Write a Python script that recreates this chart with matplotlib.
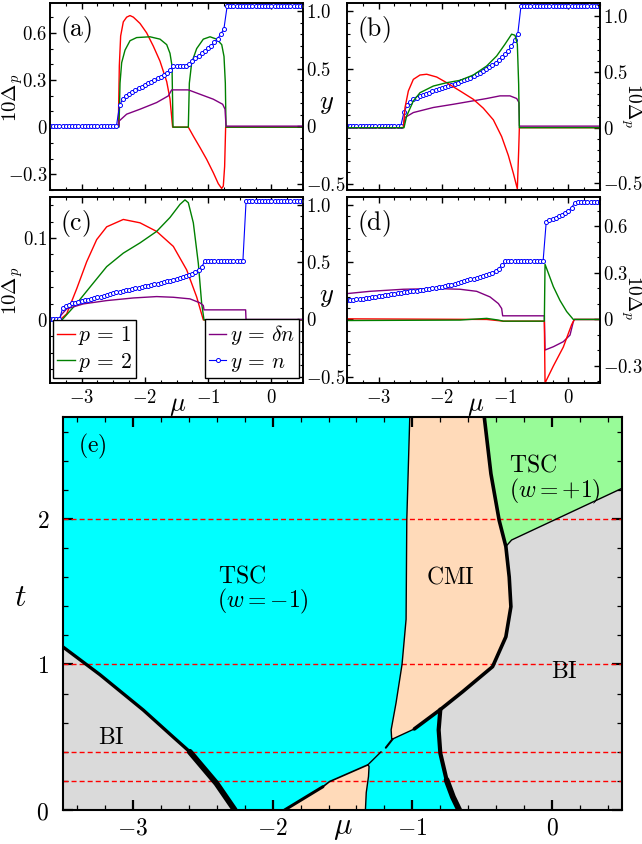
import numpy as np
import matplotlib
matplotlib.use('Agg')
import matplotlib.pyplot as plt
from matplotlib.ticker import MultipleLocator, FuncFormatter

plt.rcParams['mathtext.fontset'] = 'cm'
plt.rcParams['font.family'] = ['DejaVu Serif']

# ---------------- data ----------------
# common mu sampling of the n(mu) curves (blue circles)
mu_grid = np.round(np.arange(-3.5, 0.501, 0.05), 2)

# panel (a)
red_a_mu = [-3.5, -2.42, -2.404, -2.383, -2.341, -2.288, -2.235, -2.182, -2.077, -1.972, -1.866, -1.761,
            -1.655, -1.603, -1.561, -1.313, -1.234, -1.128, -1.023, -0.918, -0.839, -0.786, -0.760, -0.739,
            -0.723, 0.5]
red_a = [0, 0, 0.39, 0.58, 0.67, 0.70, 0.71, 0.70, 0.66, 0.60, 0.515, 0.42, 0.29, 0.18, 0, 0, -0.057, -0.13,
         -0.205, -0.29, -0.36, -0.39, -0.375, -0.25, 0, 0]
green_a_mu = [-3.5, -2.409, -2.393, -2.367, -2.314, -2.235, -2.130, -1.919, -1.761, -1.655, -1.603, -1.571,
              -1.555, -1.313, -1.297, -1.260, -1.181, -1.076, -0.970, -0.865, -0.785, -0.749, -0.728, -0.717, 0.5]
green_a = [0, 0, 0.28, 0.41, 0.49, 0.55, 0.57, 0.575, 0.56, 0.525, 0.47, 0.39, 0, 0, 0.28, 0.41, 0.50, 0.56,
           0.575, 0.56, 0.525, 0.45, 0.28, 0, 0]
purple_a_mu = [-3.5, -2.409, -2.404, -2.288, -2.077, -1.814, -1.629, -1.576, -1.561, -1.313, -1.128, -0.918,
               -0.770, -0.733, -0.717, 0.5]
purple_a = [0, 0, 0.046, 0.104, 0.147, 0.205, 0.263, 0.315, 0.315, 0.315, 0.277, 0.234, 0.19, 0.147, 0, 0]
n_a = [0, 0, 0, 0, 0, 0, 0, 0, 0, 0,
       0, 0, 0, 0, 0, 0, 0, 0, 0, 0,
       0, 0, 0.18, 0.234, 0.263, 0.283, 0.298, 0.315, 0.33, 0.344,
       0.358, 0.373, 0.387, 0.40, 0.416, 0.43, 0.445, 0.465, 0.488, 0.523,
       0.523, 0.523, 0.523, 0.523, 0.538, 0.566, 0.59, 0.61, 0.633, 0.653,
       0.676, 0.70, 0.731, 0.76, 0.80, 0.847, 1.04, 1.04, 1.04, 1.04,
       1.04, 1.04, 1.04, 1.04, 1.04, 1.04, 1.04, 1.04, 1.04, 1.04,
       1.04, 1.04, 1.04, 1.04, 1.04, 1.04, 1.04, 1.04, 1.04, 1.04,
       1.04]

# panel (b)
red_b_mu = [-3.5, -2.609, -2.583, -2.530, -2.451, -2.346, -2.240, -2.082, -1.924, -1.713, -1.503, -1.345,
            -1.186, -1.055, -0.949, -0.870, -0.807, -0.786, -0.775, 0.5]
red_b = [0, 0, 0.18, 0.33, 0.434, 0.473, 0.48, 0.455, 0.404, 0.33, 0.255, 0.175, 0.07, -0.08, -0.25, -0.41,
         -0.55, -0.21, 0, 0]
green_b_mu = [-3.5, -2.599, -2.557, -2.451, -2.346, -2.135, -1.924, -1.713, -1.503, -1.292, -1.134, -1.002,
              -0.897, -0.844, -0.807, -0.786, -0.775, 0.5]
green_b = [0, 0, 0.105, 0.24, 0.314, 0.374, 0.404, 0.425, 0.473, 0.554, 0.644, 0.75, 0.84, 0.83, 0.75, 0.39,
           0, 0]
purple_b_mu = [-3.5, -2.609, -2.583, -2.451, -2.135, -1.819, -1.503, -1.292, -1.081, -0.923, -0.817, -0.781,
               -0.775, 0.5]
purple_b = [0, 0, 0.075, 0.118, 0.162, 0.19, 0.22, 0.24, 0.263, 0.263, 0.24, 0.205, 0, 0]
n_b = [0, 0, 0, 0, 0, 0, 0, 0, 0, 0,
       0, 0, 0, 0, 0, 0, 0, 0, 0.12, 0.18,
       0.21, 0.234, 0.247, 0.258, 0.27, 0.281, 0.292, 0.302, 0.312, 0.322,
       0.332, 0.341, 0.35, 0.358, 0.367, 0.378, 0.389, 0.40, 0.41, 0.422,
       0.435, 0.45, 0.465, 0.48, 0.497, 0.515, 0.533, 0.552, 0.573, 0.598,
       0.625, 0.655, 0.695, 0.745, 0.80, 1.04, 1.04, 1.04, 1.04, 1.04,
       1.04, 1.04, 1.04, 1.04, 1.04, 1.04, 1.04, 1.04, 1.04, 1.04,
       1.04, 1.04, 1.04, 1.04, 1.04, 1.04, 1.04, 1.04, 1.04, 1.04,
       1.04]

# panel (c)
red_c_mu = [-3.5, -3.342, -3.236, -3.078, -2.920, -2.762, -2.604, -2.341, -2.077, -1.814, -1.550, -1.339,
            -1.181, -1.076, 0.5]
red_c = [0, 0, 0.0074, 0.038, 0.071, 0.098, 0.1136, 0.1226, 0.1185, 0.108, 0.0897, 0.061, 0.028, 0, 0]
green_c_mu = [-3.5, -3.31, -3.078, -2.868, -2.604, -2.341, -2.077, -1.814, -1.603, -1.445, -1.366, -1.313,
              -1.234, -1.155, -1.102, -1.065, 0.5]
green_c = [0, 0, 0.02, 0.04, 0.065, 0.0815, 0.094, 0.108, 0.125, 0.141, 0.1465, 0.143, 0.1185, 0.069, 0.02,
           0, 0]
purple_c_mu = [-3.5, -3.342, -3.331, -3.236, -2.973, -2.604, -2.182, -1.814, -1.550, -1.287, -1.128, -1.076,
               -1.065, -0.407, -0.401, 0.5]
purple_c = [0, 0, 0.035, 0.093, 0.136, 0.165, 0.188, 0.20, 0.194, 0.18, 0.145, 0.122, 0.084, 0.084, 0, 0]
n_c = [0, 0, 0, 0, 0.10, 0.118, 0.13, 0.14, 0.147, 0.154,
       0.16, 0.167, 0.174, 0.18, 0.187, 0.194, 0.20, 0.208, 0.215, 0.223,
       0.23, 0.238, 0.244, 0.25, 0.255, 0.26, 0.266, 0.272, 0.278, 0.284,
       0.29, 0.296, 0.302, 0.308, 0.314, 0.32, 0.326, 0.333, 0.34, 0.348,
       0.356, 0.364, 0.373, 0.382, 0.39, 0.40, 0.415, 0.435, 0.46, 0.513,
       0.513, 0.513, 0.513, 0.513, 0.513, 0.513, 0.513, 0.513, 0.513, 0.513,
       0.513, 0.513, 1.035, 1.035, 1.035, 1.035, 1.035, 1.035, 1.035, 1.035,
       1.035, 1.035, 1.035, 1.035, 1.035, 1.035, 1.035, 1.035, 1.035, 1.035,
       1.035]

# panel (d)
red_d_mu = [-3.5, -1.292, -1.028, -0.380, -0.369, -0.237, -0.080, 0.052, 0.094, 0.5]
red_d = [0.004, 0.0, -0.011, -0.011, -0.41, -0.30, -0.178, -0.033, 0, 0]
green_d_mu = [-3.5, -1.713, -1.292, -1.107, -1.028, -0.380, -0.369, -0.237, -0.132, -0.027, 0.078, 0.5]
green_d = [-0.007, -0.004, 0.007, -0.004, -0.011, -0.011, 0.356, 0.211, 0.122, 0.051, 0, 0]
purple_d_mu = [-3.5, -3.136, -2.609, -2.082, -1.713, -1.450, -1.239, -1.107, -1.055, -1.039, -0.380, -0.369,
               -0.237, -0.080, 0.026, 0.078, 0.094, 0.5]
purple_d = [0.226, 0.246, 0.264, 0.27, 0.264, 0.246, 0.197, 0.139, 0.096, 0.032, 0.032, -0.267, -0.238,
            -0.194, -0.136, -0.02, 0, 0]
n_d = [0.168, 0.17, 0.172, 0.175, 0.178, 0.182, 0.186, 0.19, 0.195, 0.199,
       0.203, 0.207, 0.211, 0.216, 0.22, 0.224, 0.228, 0.233, 0.237, 0.241,
       0.245, 0.249, 0.253, 0.257, 0.261, 0.266, 0.27, 0.274, 0.279, 0.283,
       0.288, 0.293, 0.298, 0.304, 0.31, 0.318, 0.326, 0.334, 0.342, 0.35,
       0.356, 0.362, 0.37, 0.378, 0.387, 0.397, 0.41, 0.425, 0.445, 0.475,
       0.507, 0.507, 0.507, 0.507, 0.507, 0.507, 0.507, 0.507, 0.507, 0.507,
       0.507, 0.507, 0.507, 0.855, 0.868, 0.878, 0.89, 0.902, 0.915, 0.93,
       0.95, 0.975, 1.02, 1.023, 1.023, 1.023, 1.023, 1.023, 1.023, 1.023,
       1.023]

# panel (e): phase boundaries (mu, t)
bi_left_mu = [-3.5, -3.236, -2.926, -2.71, -2.593, -2.402, -2.271]
bi_left_t = [1.12, 0.93, 0.687, 0.50, 0.40, 0.183, 0.0]
cmi_left_mu = [-1.018, -1.04, -1.045, -1.074, -1.117, -1.152, -1.148]
cmi_left_t = [2.72, 1.99, 1.31, 1.0, 0.735, 0.55, 0.49]
cmi_right_mu = [-1.141, -0.986, -0.80, -0.64, -0.426, -0.331, -0.295, -0.307, -0.331, -0.379, -0.438, -0.488]
cmi_right_t = [0.488, 0.557, 0.69, 0.813, 0.985, 1.19, 1.397, 1.60, 1.81, 1.99, 2.31, 2.72]
tsc_bi_mu = [-0.331, -0.29, 0.5]
tsc_bi_t = [1.81, 1.855, 2.21]
cyan_bi_mu = [-0.80, -0.812, -0.80, -0.755, -0.71, -0.665]
cyan_bi_t = [0.69, 0.55, 0.39, 0.206, 0.09, 0.0]
low_cmi_left_mu = [-1.914, -1.64, -1.593, -1.319]
low_cmi_left_t = [0.0, 0.16, 0.195, 0.31]
low_cmi_right_mu = [-1.319, -1.31, -1.314, -1.33, -1.336]
low_cmi_right_t = [0.31, 0.30, 0.23, 0.12, 0.0]
t_cuts = [0.2, 0.4, 1.0, 2.0]

# ---------------- figure ----------------
W, H = 642.0, 844.0
fig = plt.figure(figsize=(W / 100, H / 100), dpi=100)


def box(l, t, r, b):
    return [l / W, 1 - b / H, (r - l) / W, (b - t) / H]


def dec_fmt(v, pos):
    if abs(v) < 1e-9:
        return '$0$'
    return '$%.1f$' % v


def int_fmt(v, pos):
    return '$%d$' % round(v)


RED, GREEN, PURPLE, BLUE = '#ff0000', '#008000', '#800080', '#0000ff'
n_lim = (-0.555, 1.07)


def panel(rect, gap_left, gap_lim, gap_major, gap_minor, data, label, bottom_labels):
    ax = fig.add_axes(box(*rect))
    tw = ax.twinx()
    gap_ax, n_ax = (ax, tw) if gap_left else (tw, ax)
    red, green, purple, nvals = data
    lr, = gap_ax.plot(red[0], red[1], color=RED, lw=1.0)
    lg, = gap_ax.plot(green[0], green[1], color=GREEN, lw=1.0)
    lp, = n_ax.plot(purple[0], purple[1], color=PURPLE, lw=1.0)
    lb, = n_ax.plot(mu_grid, nvals, color=BLUE, lw=0.8, marker='o', ms=2.9, mfc='white',
                    mec=BLUE, mew=0.7)
    ax.set_xlim(-3.5, 0.5)
    gap_ax.set_ylim(*gap_lim)
    n_ax.set_ylim(*n_lim)
    ax.xaxis.set_major_locator(MultipleLocator(1))
    ax.xaxis.set_minor_locator(MultipleLocator(0.25))
    ax.xaxis.set_major_formatter(FuncFormatter(int_fmt))
    gap_ax.yaxis.set_major_locator(MultipleLocator(gap_major))
    gap_ax.yaxis.set_minor_locator(MultipleLocator(gap_minor))
    gap_ax.yaxis.set_major_formatter(FuncFormatter(dec_fmt))
    n_ax.yaxis.set_major_locator(MultipleLocator(0.5))
    n_ax.yaxis.set_minor_locator(MultipleLocator(0.1))
    n_ax.yaxis.set_major_formatter(FuncFormatter(dec_fmt))
    ax.tick_params(which='both', direction='in', top=True, bottom=True, left=True, right=False,
                   labelsize=13.5, pad=2, labelbottom=bottom_labels, labelleft=gap_left)
    ax.tick_params(axis='x', pad=4)
    tw.tick_params(which='both', direction='in', right=True, left=False, labelsize=13.5, pad=2)
    for a in (ax, tw):
        a.tick_params(which='major', length=4, width=1.0)
        a.tick_params(which='minor', length=2, width=0.8)
        for s in a.spines.values():
            s.set_linewidth(1.2)
    ax.text(0.04, 0.86, label, transform=ax.transAxes, fontsize=18.5, ha='left', va='center')
    return ax, tw, (lr, lg, lp, lb)


ax_a, tw_a, _ = panel((50, 3, 303, 190), True, (-0.40, 0.79), 0.3, 0.1,
                      ((red_a_mu, red_a), (green_a_mu, green_a), (purple_a_mu, purple_a), n_a),
                      r'$\mathrm{(a)}$', False)
ax_b, tw_b, _ = panel((347, 3, 600, 190), False, (-0.56, 1.12), 0.5, 0.1,
                      ((red_b_mu, red_b), (green_b_mu, green_b), (purple_b_mu, purple_b), n_b),
                      r'$\mathrm{(b)}$', False)
ax_c, tw_c, hc = panel((50, 197, 303, 383), True, (-0.077, 0.15), 0.1, 0.02,
                       ((red_c_mu, red_c), (green_c_mu, green_c), (purple_c_mu, purple_c), n_c),
                       r'$\mathrm{(c)}$', True)
ax_d, tw_d, _ = panel((347, 197, 600, 383), False, (-0.41, 0.79), 0.3, 0.1,
                      ((red_d_mu, red_d), (green_d_mu, green_d), (purple_d_mu, purple_d), n_d),
                      r'$\mathrm{(d)}$', True)

leg_kw = dict(fontsize=15.5, frameon=True, fancybox=False, framealpha=1, edgecolor='black',
              borderpad=0.2, handlelength=0.8, handletextpad=0.15, labelspacing=0.15, borderaxespad=0)
leg1 = tw_c.legend([hc[0], hc[1]], [r'$p\,=\,1$', r'$p\,=\,2$'], loc='lower left',
                   bbox_to_anchor=(0.012, 0.027), **leg_kw)
leg1.get_frame().set_linewidth(1.0)
tw_c.add_artist(leg1)
leg2 = tw_c.legend([hc[2], hc[3]], [r'$y\,=\,\delta n$', r'$y\,=\,n$'], loc='lower right',
                   bbox_to_anchor=(0.984, 0.027), **leg_kw)
leg2.get_frame().set_linewidth(1.0)


def ftext(px, py, s, **kw):
    fig.text(px / W, 1 - py / H, s, ha='center', va='center', **kw)


ftext(13, 98, r'$10\Delta_p$', fontsize=15, rotation=90)
ftext(13, 291, r'$10\Delta_p$', fontsize=15, rotation=90)
ftext(327, 104, r'$y$', fontsize=19)
ftext(327, 296, r'$y$', fontsize=19)
ftext(631, 106, r'$10\Delta_p$', fontsize=14, rotation=-90)
ftext(631, 298, r'$10\Delta_p$', fontsize=14, rotation=-90)
ftext(178, 405, r'$\mu$', fontsize=19)
ftext(476, 405, r'$\mu$', fontsize=19)

# ---------------- panel (e) ----------------
ax = fig.add_axes(box(63, 417, 622, 810))
ax.set_facecolor('#00ffff')
ax.set_xlim(-3.5, 0.5)
ax.set_ylim(0, 2.7)

gray = '#dadada'
peach = '#ffdab9'
ax.fill(bi_left_mu + [-3.5], bi_left_t + [0.0], color=gray, lw=0, zorder=1)
ax.fill(cmi_left_mu + cmi_right_mu, cmi_left_t + cmi_right_t, color=peach, lw=0, zorder=1)
ax.fill(cmi_right_mu[8:] + [0.5, 0.5] + tsc_bi_mu[1:2], cmi_right_t[8:] + [2.72, 2.21] + tsc_bi_t[1:2],
        color='#98fb98', lw=0, zorder=1)
ax.fill(cmi_right_mu[8:1:-1] + cyan_bi_mu[1:] + [0.5, 0.5] + tsc_bi_mu[1:2],
        cmi_right_t[8:1:-1] + cyan_bi_t[1:] + [0.0, 2.21] + tsc_bi_t[1:2], color=gray, lw=0, zorder=1)
ax.fill(low_cmi_left_mu + low_cmi_right_mu[1:], low_cmi_left_t + low_cmi_right_t[1:], color=peach,
        lw=0, zorder=1)

for t in t_cuts:
    ax.axhline(t, color=RED, lw=1.0, ls=(0, (3.6, 2.2)), zorder=2)

lk = dict(color='black', solid_capstyle='round', solid_joinstyle='round', zorder=3)
ax.plot(bi_left_mu, bi_left_t, lw=2.4, **lk)
ax.plot(bi_left_mu[4:], bi_left_t[4:], lw=4.2, **lk)
ax.plot(cmi_left_mu, cmi_left_t, lw=1.0, **lk)
ax.plot(cmi_right_mu[:2], cmi_right_t[:2], lw=1.0, **lk)
ax.plot(cmi_right_mu[1:], cmi_right_t[1:], lw=2.6, **lk)
ax.plot(tsc_bi_mu, tsc_bi_t, lw=1.0, **lk)
ax.plot(cyan_bi_mu, cyan_bi_t, lw=3.0, **lk)
ax.plot(cyan_bi_mu[3:], cyan_bi_t[3:], lw=4.2, **lk)
ax.plot(low_cmi_left_mu[:2], low_cmi_left_t[:2], lw=2.2, **lk)
ax.plot(low_cmi_left_mu[1:], low_cmi_left_t[1:], lw=1.2, **lk)
ax.plot(low_cmi_right_mu, low_cmi_right_t, lw=1.0, **lk)
ax.plot([low_cmi_left_mu[-1], -1.224], [low_cmi_left_t[-1], 0.40], lw=1.0, **lk)
ax.plot([-1.19, cmi_right_mu[0]], [0.428, cmi_right_t[0]], lw=1.5, **lk)

ax.xaxis.set_major_locator(MultipleLocator(1))
ax.xaxis.set_minor_locator(MultipleLocator(0.2))
ax.yaxis.set_major_locator(MultipleLocator(1))
ax.yaxis.set_minor_locator(MultipleLocator(0.2))
ax.xaxis.set_major_formatter(FuncFormatter(int_fmt))
ax.yaxis.set_major_formatter(FuncFormatter(int_fmt))
ax.tick_params(which='both', direction='in', top=True, right=True, labelsize=17)
ax.tick_params(which='major', length=7, width=1.6)
ax.tick_params(which='minor', length=3.5, width=0.9)
ax.tick_params(axis='y', pad=10)
ax.tick_params(axis='x', pad=5)
for s in ax.spines.values():
    s.set_linewidth(1.5)
    s.set_zorder(5)

tk = dict(fontsize=17, ha='left', va='center', zorder=6)
ax.text(-3.39, 2.50, r'$\mathrm{(e)}$', **tk)
ax.text(-2.39, 1.61, r'$\mathrm{TSC}$', **tk)
ax.text(-2.40, 1.43, r'$(w=-1)$', **tk)
ax.text(-0.90, 1.60, r'$\mathrm{CMI}$', **tk)
ax.text(-0.307, 2.37, r'$\mathrm{TSC}$', **tk)
ax.text(-0.31, 2.19, r'$(w=+1)$', **tk)
ax.text(-3.25, 0.50, r'$\mathrm{BI}$', **tk)
ax.text(-0.007, 0.95, r'$\mathrm{BI}$', **tk)

ftext(343, 827, r'$\mu$', fontsize=22)
ftext(20, 598, r'$t$', fontsize=23)

fig.savefig('out.png', dpi=100)
